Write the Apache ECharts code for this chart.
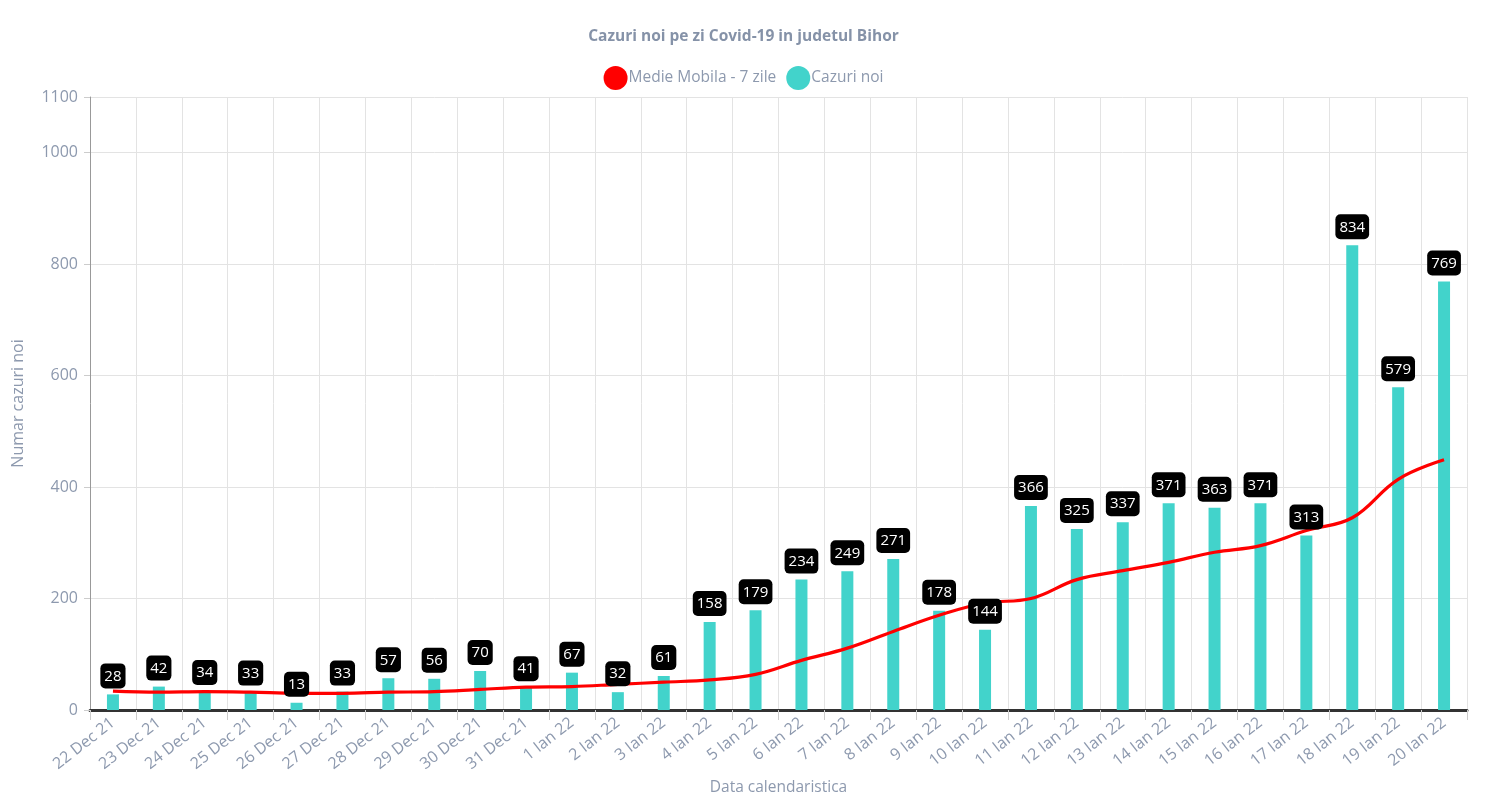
<!DOCTYPE html>
<html>
<head>
<meta charset="utf-8">
<script src="https://cdn.jsdelivr.net/npm/echarts@6/dist/echarts.min.js"></script>
<style>
html,body{margin:0;padding:0;background:#fff;}
#chart{width:1487px;height:793px;}
</style>
</head>
<body>
<div id="chart"></div>
<script>
const dates = ['22 Dec 21','23 Dec 21','24 Dec 21','25 Dec 21','26 Dec 21','27 Dec 21','28 Dec 21','29 Dec 21','30 Dec 21','31 Dec 21','1 Ian 22','2 Ian 22','3 Ian 22','4 Ian 22','5 Ian 22','6 Ian 22','7 Ian 22','8 Ian 22','9 Ian 22','10 Ian 22','11 Ian 22','12 Ian 22','13 Ian 22','14 Ian 22','15 Ian 22','16 Ian 22','17 Ian 22','18 Ian 22','19 Ian 22','20 Ian 22'];
const newCases = [28,42,34,33,13,33,57,56,70,41,67,32,61,158,179,234,249,271,178,144,366,325,337,371,363,371,313,834,579,769];
const movingAvg = [34,32,33,32,30,30,32,33,37,41,42,46,50,54,64,89,111,141,170,192,200,234,250,265,283,295,322,345,414,449];
const yTicks = {min:0, max:1100, interval:200};

const txt = '#8d99ae';
const font = '"Open Sans", "Noto Sans", sans-serif';
const chart = echarts.init(document.getElementById('chart'));
chart.setOption({
  animation:false,
  textStyle:{fontFamily:font},
  title:{text:'Cazuri noi pe zi Covid-19 in judetul Bihor', left:'center', top:24,
    textStyle:{fontFamily:font, fontSize:15.5, fontWeight:'bold', color:'#8592a8'}},
  legend:{top:61, left:'center', icon:'circle', itemWidth:24, itemHeight:24, itemGap:10,
    data:['Medie Mobila - 7 zile','Cazuri noi'],
    textStyle:{fontFamily:font, fontSize:15.5, color:txt, padding:[0,0,0,-4]}},
  grid:{left:90, right:20, top:97, bottom:83, outerBoundsMode:'none', containLabel:false},
  xAxis:{type:'category', data:dates, boundaryGap:true,
    name:'Data calendaristica', nameLocation:'middle', nameGap:67,
    nameTextStyle:{fontFamily:font, fontSize:15.5, color:txt},
    axisLine:{lineStyle:{color:'#333', width:3}},
    axisTick:{show:true, length:10, lineStyle:{color:'#ccc'}},
    axisLabel:{rotate:38, fontSize:16, color:txt, fontFamily:font, margin:11},
    splitLine:{show:true, lineStyle:{color:'#e3e3e3'}}},
  yAxis:{type:'value', min:yTicks.min, max:yTicks.max, interval:yTicks.interval,
    name:'Numar cazuri noi', nameLocation:'middle', nameGap:64,
    nameTextStyle:{fontFamily:font, fontSize:16, color:txt},
    axisLine:{show:true, lineStyle:{color:'#999', width:1}},
    axisTick:{show:true, length:6, lineStyle:{color:'#ccc'}},
    axisLabel:{fontSize:16, color:txt, fontFamily:font, margin:12, showMaxLabel:true,
      formatter:function(v){return String(v);}},
    splitLine:{show:true, lineStyle:{color:'#e3e3e3'}}},
  series:[
    {name:'Medie Mobila - 7 zile', type:'line', data:movingAvg, smooth:0.4,
      showSymbol:false, symbol:'circle', z:3,
      itemStyle:{color:'#ff0000'}, lineStyle:{color:'#ff0000', width:3.2}},
    {name:'Cazuri noi', type:'bar', data:newCases, barWidth:12, z:2,
      itemStyle:{color:'#42d3cb'}},
    {name:'labels', type:'bar', data:newCases, barWidth:12, barGap:'-100%', z:5,
      itemStyle:{color:'rgba(0,0,0,0)'}, tooltip:{show:false},
      label:{show:true, position:'top', distance:6, color:'#fff', fontSize:15, fontFamily:font,
        backgroundColor:'#000', borderRadius:5, padding:[4,4,3,4], lineHeight:18}}
  ]
});
</script>
</body>
</html>
